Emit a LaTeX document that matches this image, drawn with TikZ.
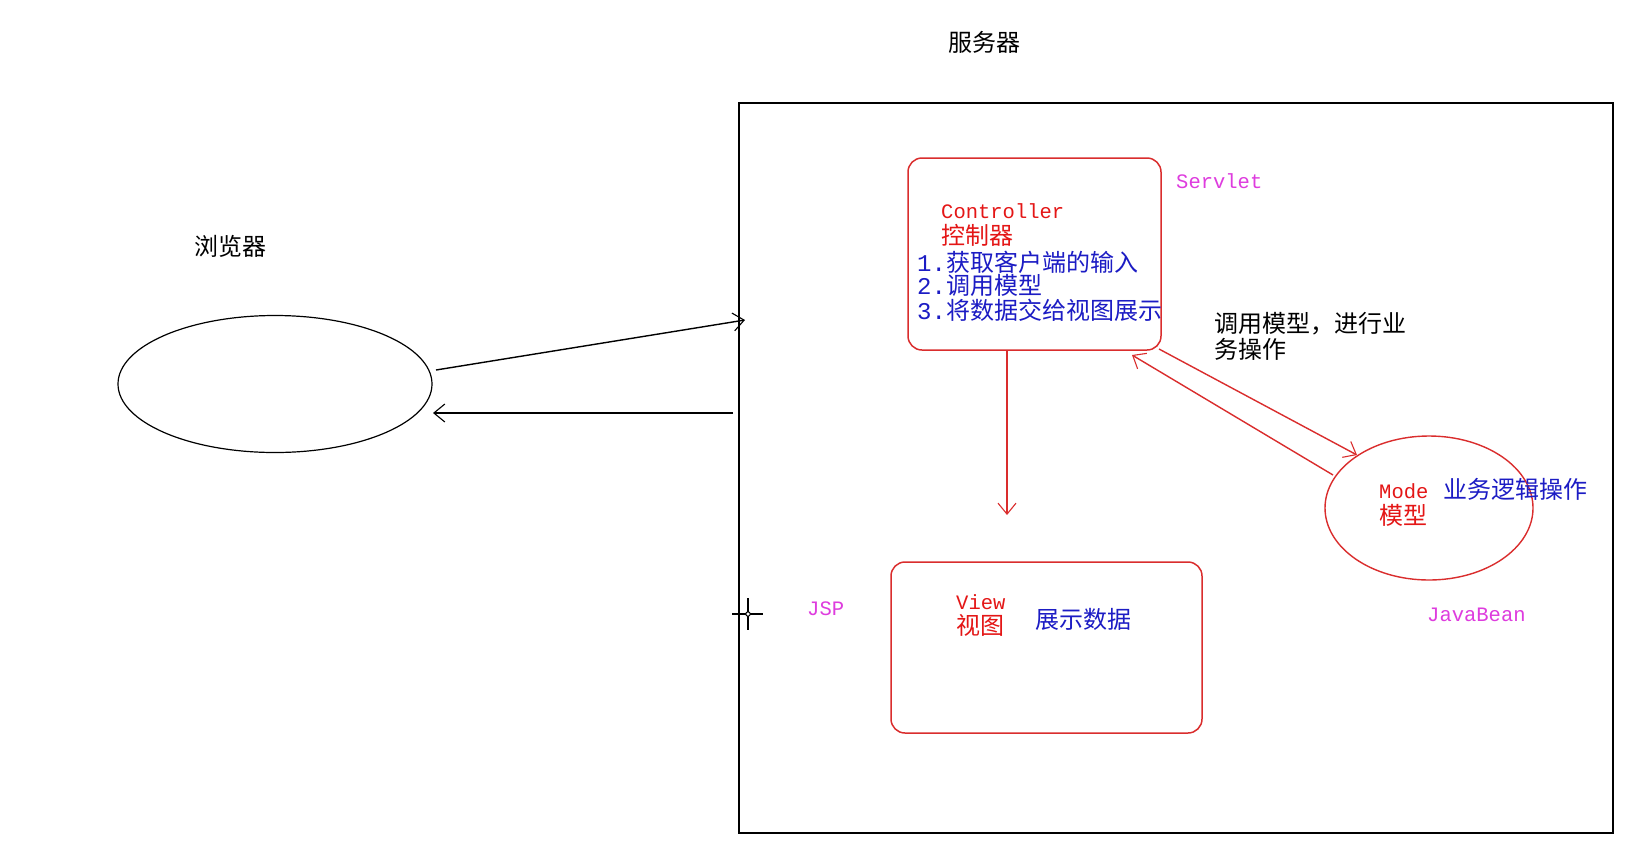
\documentclass[tikz,border=0pt]{standalone}
\usepackage{fontspec}
\newfontfamily\cjk{Noto Sans CJK SC}
\newfontfamily\mono{Liberation Mono}
\usetikzlibrary{arrows.meta,shapes.geometric}
\definecolor{lred}{RGB}{218,45,45}
\definecolor{tred}{RGB}{228,22,22}
\definecolor{tblue}{RGB}{28,28,196}
\definecolor{tmag}{RGB}{222,60,222}
\tikzset{
  txt/.style={anchor=west,inner sep=0pt,font=\cjk\fontsize{24}{26}\selectfont},
  cjkred/.style={txt,text=tred,font=\cjk\fontsize{24}{26}\selectfont},
  cjkblue/.style={txt,text=tblue,font=\cjk\fontsize{24}{26}\selectfont},
  monored/.style={txt,text=tred,font=\mono\fontsize{20.5}{22}\selectfont},
  monomag/.style={txt,text=tmag,font=\mono\fontsize{20.5}{22}\selectfont},
  redbox/.style={draw=lred,line width=1.5pt,rounded corners=14pt,inner sep=0pt},
  blackline/.style={draw=black,line width=1.4pt},
  barb/.style={-{Straight Barb[length=11pt,width=18pt,line width=1.1pt]}},
  redarrow/.style={draw=lred,line width=1.4pt,barb},
}
\begin{document}
\begin{tikzpicture}[x=1pt,y=-1pt]
\useasboundingbox[fill=white] (0,0) rectangle (1648,852);

% server box
\node[draw=black,line width=1.6pt,minimum width=874pt,minimum height=730pt,inner sep=0pt] (server) at (1176,468) {};
\node[txt] (servertitle) at (948,42) {服务器};

% browser
\node[draw=black,line width=1.2pt,ellipse,minimum width=314pt,minimum height=137pt,inner sep=0pt] (browser) at (275,384) {};
\node[txt] (browsertitle) at (194,246) {浏览器};

% controller
\node[redbox,minimum width=253pt,minimum height=192pt] (ctrl) at (1034.5,254) {};
\node[monored] (ctrlen) at (941,211) {Controller};
\node[cjkred] (ctrlcn) at (941,235) {控制器};
\node[cjkblue] (l1) at (917,262) {{\mono 1.}获取客户端的输入};
\node[cjkblue] (l2) at (917,285) {{\mono 2.}调用模型};
\node[cjkblue] (l3) at (917,310) {{\mono 3.}将数据交给视图展示};
\node[monomag] (servlet) at (1176,181) {Servlet};
\node[txt] (call1) at (1214,324) {调用模型，进行业};
\node[txt] (call2) at (1214,349) {务操作};

% model
\node[draw=lred,line width=1.4pt,ellipse,minimum width=208pt,minimum height=144pt,inner sep=0pt] (model) at (1429,508) {};
\node[monored] (modeen) at (1379,491) {Mode};
\node[cjkred] (modecn) at (1379,515) {模型};
\node[cjkblue] (biz) at (1443,489) {业务逻辑操作};
\node[monomag] (javabean) at (1427,615) {JavaBean};

% view
\node[redbox,minimum width=311pt,minimum height=171pt] (view) at (1046.5,647.5) {};
\node[monored] (viewen) at (956,602) {View};
\node[cjkred] (viewcn) at (956,625) {视图};
\node[cjkblue] (show) at (1035,619) {展示数据};
\node[monomag] (jsp) at (807,609) {JSP};

% coordinates for connector ends
\coordinate (reqstart) at (436,370);
\coordinate (reqtip) at (745,320);
\coordinate (respstart) at (733,413);
\coordinate (resptip) at (433,413);
\coordinate (vtip) at (1007,515);
\coordinate (astart) at (1159,349);
\coordinate (atip) at (1357,455);
\coordinate (bstart) at (1333,475);
\coordinate (btip) at (1132,355);

% browser <-> server
\draw[blackline,barb] (reqstart) -- (reqtip);
\draw[blackline,barb] (respstart) -- (resptip);

% controller -> view
\draw[redarrow] (ctrl.south -| vtip) -- (vtip);

% controller <-> model
\draw[redarrow] (astart) -- (atip);
\draw[redarrow] (bstart) -- (btip);

% cursor crosshair
\draw[black,line width=1.4pt] (732,614) -- (763,614);
\draw[black,line width=1.4pt] (748,598) -- (748,630);
\draw[black,fill=white,line width=1pt] (748,614) circle (2.2pt);
\end{tikzpicture}
\end{document}
